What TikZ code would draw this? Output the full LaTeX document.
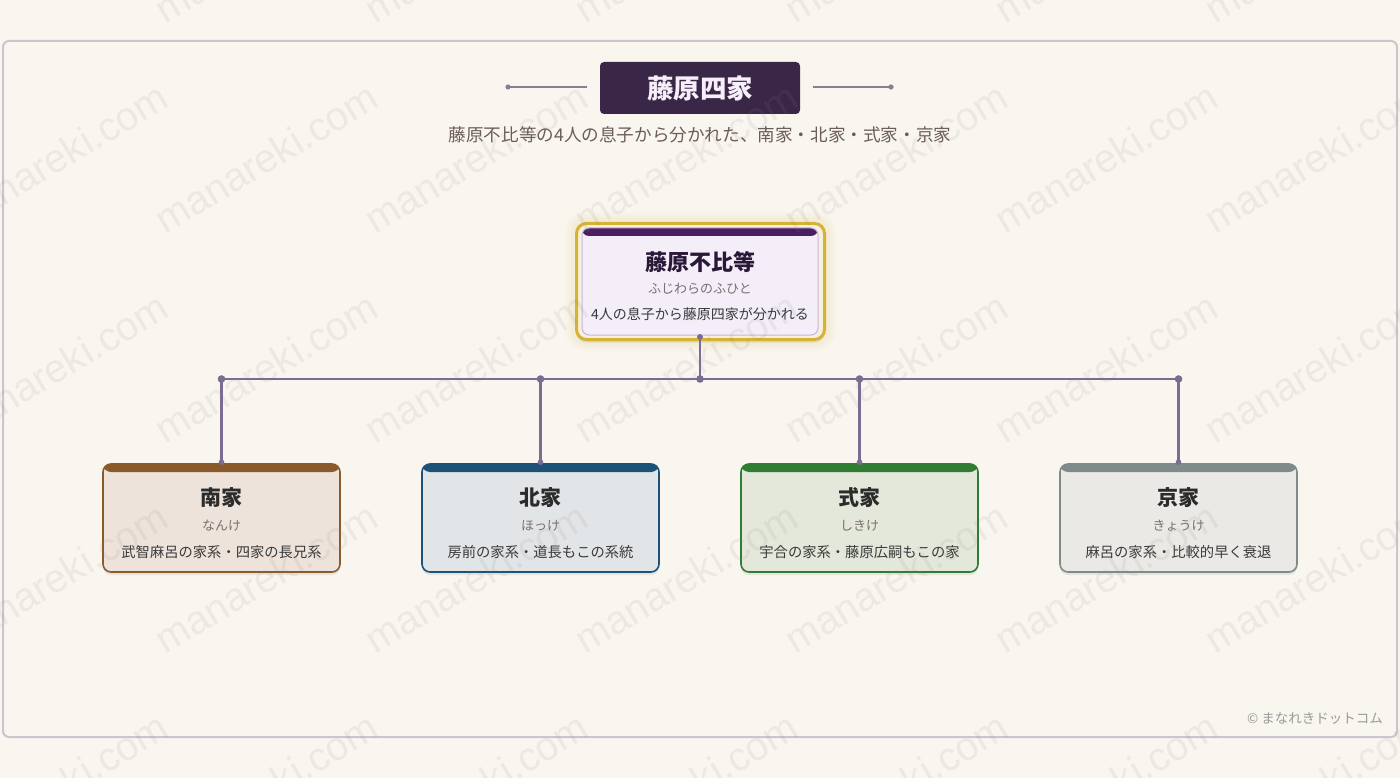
\documentclass[tikz,border=0pt]{standalone}
\usepackage{fontspec}
\setmainfont{Noto Sans CJK JP}
\newfontfamily\wmfont{Liberation Sans}
\usetikzlibrary{shadows}
\definecolor{bg}{HTML}{F9F6F0}
\definecolor{framecol}{HTML}{CEC4CE}
\definecolor{titlebox}{HTML}{3A2748}
\definecolor{titletext}{HTML}{F6EEF8}
\definecolor{decoline}{HTML}{8C7D92}
\definecolor{subtext}{HTML}{6B5B5B}
\definecolor{gold}{HTML}{D6B235}
\definecolor{goldgap}{HTML}{F6F0DE}
\definecolor{cband}{HTML}{4A1F62}
\definecolor{cfill}{HTML}{F3EEF8}
\definecolor{cborder}{HTML}{C9B7D8}
\definecolor{ctitle}{HTML}{2A1838}
\definecolor{readgray}{HTML}{7A7070}
\definecolor{descdark}{HTML}{3A3A3A}
\definecolor{conn}{HTML}{7B6C92}
\definecolor{nankec}{HTML}{8B5A2B}
\definecolor{nankef}{HTML}{EEE3DB}
\definecolor{hokkec}{HTML}{1D5177}
\definecolor{hokkef}{HTML}{E1E5E7}
\definecolor{shikic}{HTML}{2E7D32}
\definecolor{shikif}{HTML}{E3E8DA}
\definecolor{kyoc}{HTML}{7F8B8B}
\definecolor{kyof}{HTML}{EBE9E5}
\definecolor{childtitle}{HTML}{2B2B2B}
\definecolor{copycol}{HTML}{9A9A9A}
\definecolor{wmcol}{HTML}{8A7F7A}
\begin{document}
\begin{tikzpicture}[x=1pt,y=-1pt,
  childbox/.style={rounded corners=8pt, minimum width=237pt, minimum height=108pt,
    line width=1.6pt, inner sep=0pt,
    drop shadow={shadow xshift=0pt, shadow yshift=-3pt, opacity=0.07, fill=black}},
  band/.style={path picture={\fill[#1] (path picture bounding box.north west) rectangle ([yshift=-8pt]path picture bounding box.north east);}},
  ctitle/.style={font=\bfseries\fontsize{21}{21}\selectfont, text=childtitle, inner sep=0pt},
  creading/.style={font=\fontsize{13}{13}\selectfont, text=readgray, inner sep=0pt},
  cdesc/.style={font=\fontsize{14.3}{14.3}\selectfont, text=descdark, inner sep=0pt},
  connline/.style={draw=conn, line width=2.4pt},
  jdot/.style={fill=conn},
  wm/.style={font=\wmfont\fontsize{40}{40}\selectfont, text=wmcol, text opacity=0.11, rotate=31, inner sep=0pt}
]
\useasboundingbox (0,0) rectangle (1400,778);
\fill[bg] (0,0) rectangle (1400,778);
% outer frame
\draw[framecol, line width=2pt, rounded corners=6pt, fill=bg] (3,41) rectangle (1397,737);

% title
\node[fill=titlebox, rounded corners=4pt, minimum width=200pt, minimum height=52pt, inner sep=0pt,
  text=titletext, font=\bfseries\fontsize{26.5}{26.5}\selectfont] (title) at (700,88) {藤原四家};
\coordinate (dlA) at (508,87);
\coordinate (dlB) at (587,87);
\coordinate (drA) at (813,87);
\coordinate (drB) at (891,87);
\draw[decoline, line width=1.5pt] (dlA) -- (dlB);
\draw[decoline, line width=1.5pt] (drA) -- (drB);
\fill[decoline] (dlA) circle (2.6pt);
\fill[decoline] (drB) circle (2.6pt);
\node[font=\fontsize{17.6}{17.6}\selectfont, text=subtext, inner sep=0pt] (subtitle) at (700,135)
  {藤原不比等の4人の息子から分かれた、南家・北家・式家・京家};

% centre node glow
\foreach \d/\o in {10/0.035, 7/0.045, 4/0.06}{
  \fill[gold, opacity=\o, rounded corners={10pt+\d pt}] (575-\d,222-\d) rectangle (826+\d,341+\d);
}
\node[draw=gold, line width=3pt, fill=goldgap, rounded corners=10pt, minimum width=248pt, minimum height=116pt,
  inner sep=0pt, drop shadow={shadow xshift=0pt, shadow yshift=-3pt, opacity=0.08, fill=black}] (fuhitoframe) at (700.5,281.5) {};
\node[draw=cborder, line width=1pt, fill=cfill, rounded corners=7pt, minimum width=236pt, minimum height=107pt,
  inner sep=0pt, band=cband] (fuhito) at (700,281.5) {};
\node[font=\bfseries\fontsize{22}{22}\selectfont, text=ctitle, inner sep=0pt] (fuhito-t) at (700,262) {藤原不比等};
\node[creading] (fuhito-r) at (700,289) {ふじわらのふひと};
\node[font=\fontsize{14}{14}\selectfont, text=descdark, inner sep=0pt] (fuhito-d) at (700,314) {4人の息子から藤原四家が分かれる};

% child boxes
\node[childbox, draw=nankec, fill=nankef, band=nankec] (nanke) at (221.5,518) {};
\node[childbox, draw=hokkec, fill=hokkef, band=hokkec] (hokke) at (540.5,518) {};
\node[childbox, draw=shikic, fill=shikif, band=shikic] (shikike) at (859.5,518) {};
\node[childbox, draw=kyoc, fill=kyof, band=kyoc] (kyoke) at (1178.5,518) {};

\node[ctitle] (nanke-t) at (221.5,498) {南家};
\node[creading] (nanke-r) at (221.5,526) {なんけ};
\node[cdesc] (nanke-d) at (221.5,552) {武智麻呂の家系・四家の長兄系};

\node[ctitle] (hokke-t) at (540.5,498) {北家};
\node[creading] (hokke-r) at (540.5,526) {ほっけ};
\node[cdesc] (hokke-d) at (540.5,552) {房前の家系・道長もこの系統};

\node[ctitle] (shikike-t) at (859.5,498) {式家};
\node[creading] (shikike-r) at (859.5,526) {しきけ};
\node[cdesc] (shikike-d) at (859.5,552) {宇合の家系・藤原広嗣もこの家};

\node[ctitle] (kyoke-t) at (1178.5,498) {京家};
\node[creading] (kyoke-r) at (1178.5,526) {きょうけ};
\node[cdesc] (kyoke-d) at (1178.5,552) {麻呂の家系・比較的早く衰退};

% connectors
\coordinate (hub) at (700,379);
\coordinate (jA) at (221.5,379);
\coordinate (jB) at (540.5,379);
\coordinate (jC) at (859.5,379);
\coordinate (jD) at (1178.5,379);
\draw[connline] (fuhito.south) -- (hub);
\draw[connline] (jA) -- (jD);
\draw[connline] (jA) -- (nanke.north);
\draw[connline] (jB) -- (hokke.north);
\draw[connline] (jC) -- (shikike.north);
\draw[connline] (jD) -- (kyoke.north);
\foreach \p in {hub,jA,jB,jC,jD}{\fill[jdot] (\p) circle (3.8pt);}
\fill[jdot] ([yshift=-1.5pt]fuhito.south) circle (3pt);
\foreach \n in {nanke,hokke,shikike,kyoke}{\fill[jdot] ([yshift=1pt]\n.north) circle (2.8pt);}

% copyright
\node[anchor=east, font=\fontsize{13.5}{13.5}\selectfont, text=copycol, inner sep=0pt] (copy) at (1383,719) {© まなれきドットコム};

% watermarks
\foreach \i in {0,...,6}{
  \foreach \j in {0,...,4}{
    \node[wm] (wm-\i-\j) at (56+210*\i, -52+210*\j) {manareki.com};
  }
}
\end{tikzpicture}
\end{document}
